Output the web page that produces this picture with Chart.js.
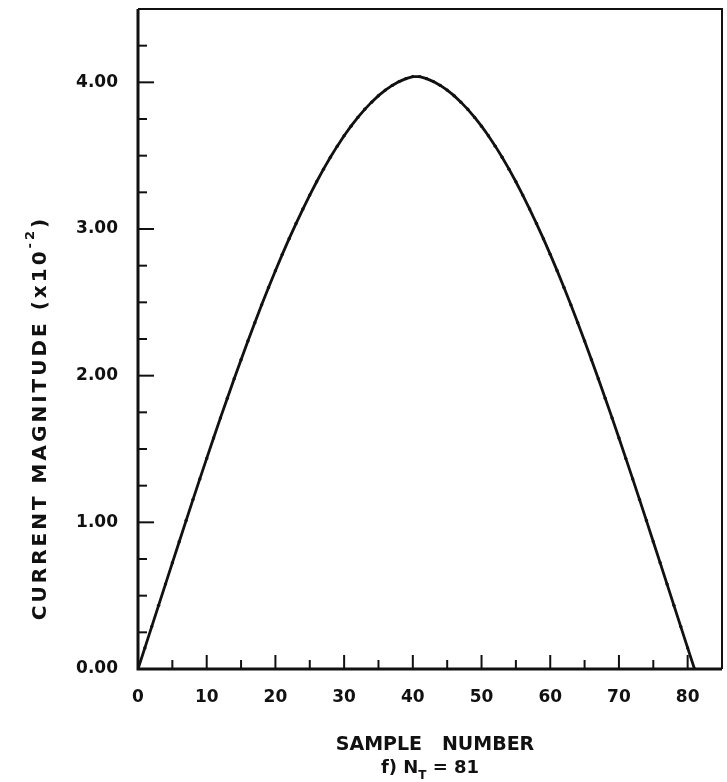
<!DOCTYPE html>
<html>
<head>
<meta charset="utf-8">
<script src="https://cdn.jsdelivr.net/npm/chart.js@4"></script>
<style>
	body { margin: 0; background: #fff; }
	#wrap { width: 727px; height: 782px; }
</style>
</head>
<body>
<div id="wrap"><canvas id="current_chart"></canvas></div>
<script>
// sample numbers along the antenna
const samples = [
	0, 1, 2, 3, 4, 5, 6, 7, 8, 9, 10, 11, 12, 13, 14, 15, 16, 17, 18, 19, 20,
	21, 22, 23, 24, 25, 26, 27, 28, 29, 30, 31, 32, 33, 34, 35, 36, 37, 38, 39, 40,
	41, 42, 43, 44, 45, 46, 47, 48, 49, 50, 51, 52, 53, 54, 55, 56, 57, 58, 59, 60,
	61, 62, 63, 64, 65, 66, 67, 68, 69, 70, 71, 72, 73, 74, 75, 76, 77, 78, 79, 80, 81
]

// current magnitude (x10^-2)
const magnitude = [
	0, 0.144, 0.289, 0.434, 0.579, 0.724, 0.868, 1.012, 1.155, 1.296, 1.436,
	1.575, 1.712, 1.846, 1.979, 2.109, 2.236, 2.361, 2.483, 2.601, 2.716,
	2.827, 2.934, 3.037, 3.136, 3.231, 3.322, 3.408, 3.489, 3.565, 3.636,
	3.701, 3.761, 3.816, 3.865, 3.909, 3.947, 3.979, 4.005, 4.025, 4.039,
	4.039, 4.025, 4.005, 3.979, 3.947, 3.909, 3.865, 3.816, 3.761, 3.701,
	3.636, 3.565, 3.489, 3.408, 3.322, 3.231, 3.136, 3.037, 2.934, 2.827,
	2.716, 2.601, 2.483, 2.361, 2.236, 2.109, 1.979, 1.846, 1.712, 1.575,
	1.436, 1.296, 1.155, 1.012, 0.868, 0.724, 0.579, 0.434, 0.289, 0.144, 0
]

const x_labels = [0, 10, 20, 30, 40, 50, 60, 70, 80]
const y_labels = [0, 1, 2, 3, 4]

const x_title = "SAMPLE   NUMBER"
const y_title = "CURRENT MAGNITUDE (x10"
const y_title_exp = "-2"
const caption = ["f) N", "T", " = 81"]

const ink = "#111"
const font_family = "'DejaVu Sans', sans-serif"

// inward ticks, frame and hand lettered titles
const frame_plugin = {
	id: 'frame',
	beforeDatasetsDraw(chart) {
		const ctx = chart.ctx
		const a = chart.chartArea
		const xs = chart.scales.x
		const ys = chart.scales.y
		ctx.save()
		ctx.strokeStyle = ink
		ctx.lineWidth = 2
		xs.ticks.forEach(t => {
			const px = xs.getPixelForValue(t.value)
			const len = x_labels.includes(t.value) ? 14 : 9
			ctx.beginPath()
			ctx.moveTo(px, a.bottom)
			ctx.lineTo(px, a.bottom - len)
			ctx.stroke()
		})
		ys.ticks.forEach(t => {
			const py = ys.getPixelForValue(t.value)
			const len = y_labels.includes(t.value) ? 16 : 9
			ctx.beginPath()
			ctx.moveTo(a.left, py)
			ctx.lineTo(a.left + len, py)
			ctx.stroke()
		})
		// top and right edges
		ctx.lineWidth = 2
		ctx.beginPath()
		ctx.moveTo(a.left, a.top)
		ctx.lineTo(a.right, a.top)
		ctx.lineTo(a.right, a.bottom)
		ctx.stroke()
		// left and bottom axes, heavier
		ctx.lineWidth = 3
		ctx.beginPath()
		ctx.moveTo(a.left, a.top)
		ctx.lineTo(a.left, a.bottom)
		ctx.lineTo(a.right, a.bottom)
		ctx.stroke()
		ctx.restore()
	},
	afterDraw(chart) {
		const ctx = chart.ctx
		ctx.save()
		ctx.fillStyle = ink
		ctx.textBaseline = 'alphabetic'

		// x axis title
		ctx.font = "bold 19px " + font_family
		ctx.textAlign = 'center'
		ctx.fillText(x_title, 435, 750)

		// caption with subscript
		ctx.textAlign = 'left'
		ctx.font = "bold 18px " + font_family
		const w0 = ctx.measureText(caption[0]).width
		ctx.font = "bold 12px " + font_family
		const w1 = ctx.measureText(caption[1]).width
		ctx.font = "bold 18px " + font_family
		const w2 = ctx.measureText(caption[2]).width
		let cx = 430 - (w0 + w1 + w2) / 2
		ctx.fillText(caption[0], cx, 773)
		cx += w0
		ctx.font = "bold 12px " + font_family
		ctx.fillText(caption[1], cx, 779)
		cx += w1
		ctx.font = "bold 18px " + font_family
		ctx.fillText(caption[2], cx, 773)

		// y axis title, rotated
		ctx.translate(46, 418)
		ctx.rotate(-Math.PI / 2)
		ctx.letterSpacing = "3px"
		ctx.font = "bold 20px " + font_family
		const main_w = ctx.measureText(y_title).width
		ctx.font = "bold 13px " + font_family
		const exp_w = ctx.measureText(y_title_exp).width
		ctx.font = "bold 20px " + font_family
		const close_w = ctx.measureText(")").width
		let tx = -(main_w + exp_w + close_w) / 2
		ctx.fillText(y_title, tx, 0)
		tx += main_w
		ctx.font = "bold 13px " + font_family
		ctx.fillText(y_title_exp, tx, -12)
		tx += exp_w
		ctx.font = "bold 20px " + font_family
		ctx.fillText(")", tx, 0)
		ctx.restore()
	}
}

const chart_options = {
	type: 'line',
	data: {
		datasets: [{
			data: samples.map((s, i) => ({ x: s, y: magnitude[i] })),
			borderColor: ink,
			borderWidth: 2.8,
			pointRadius: 1.7,
			pointBackgroundColor: ink,
			pointBorderWidth: 0,
			tension: 0
		}]
	},
	options: {
		responsive: true,
		maintainAspectRatio: false,
		animation: false,
		layout: {
			padding: { top: 9, right: 5, left: 0, bottom: 0 }
		},
		plugins: {
			legend: { display: false },
			tooltip: { enabled: false }
		},
		scales: {
			x: {
				type: 'linear',
				min: 0,
				max: 85,
				grid: { display: false, drawTicks: false },
				border: { display: false },
				ticks: {
					stepSize: 5,
					autoSkip: false,
					maxRotation: 0,
					padding: 18,
					color: ink,
					font: { family: font_family, size: 17, weight: 'bold' },
					callback: v => x_labels.includes(v) ? String(v) : ''
				},
				afterFit: s => {
					s.height = 113
					s.paddingLeft = 0
					s.paddingRight = 0
				}
			},
			y: {
				type: 'linear',
				min: 0,
				max: 4.5,
				grid: { display: false, drawTicks: false },
				border: { display: false },
				ticks: {
					stepSize: 0.25,
					autoSkip: false,
					padding: 20,
					color: ink,
					font: { family: font_family, size: 17, weight: 'bold' },
					callback: v => y_labels.includes(v) ? v.toFixed(2) : ''
				},
				afterFit: s => {
					s.width = 138
					s.paddingTop = 0
					s.paddingBottom = 0
				}
			}
		}
	},
	plugins: [frame_plugin]
}

const chart = new Chart(document.getElementById('current_chart'), chart_options)
</script>
</body>
</html>
